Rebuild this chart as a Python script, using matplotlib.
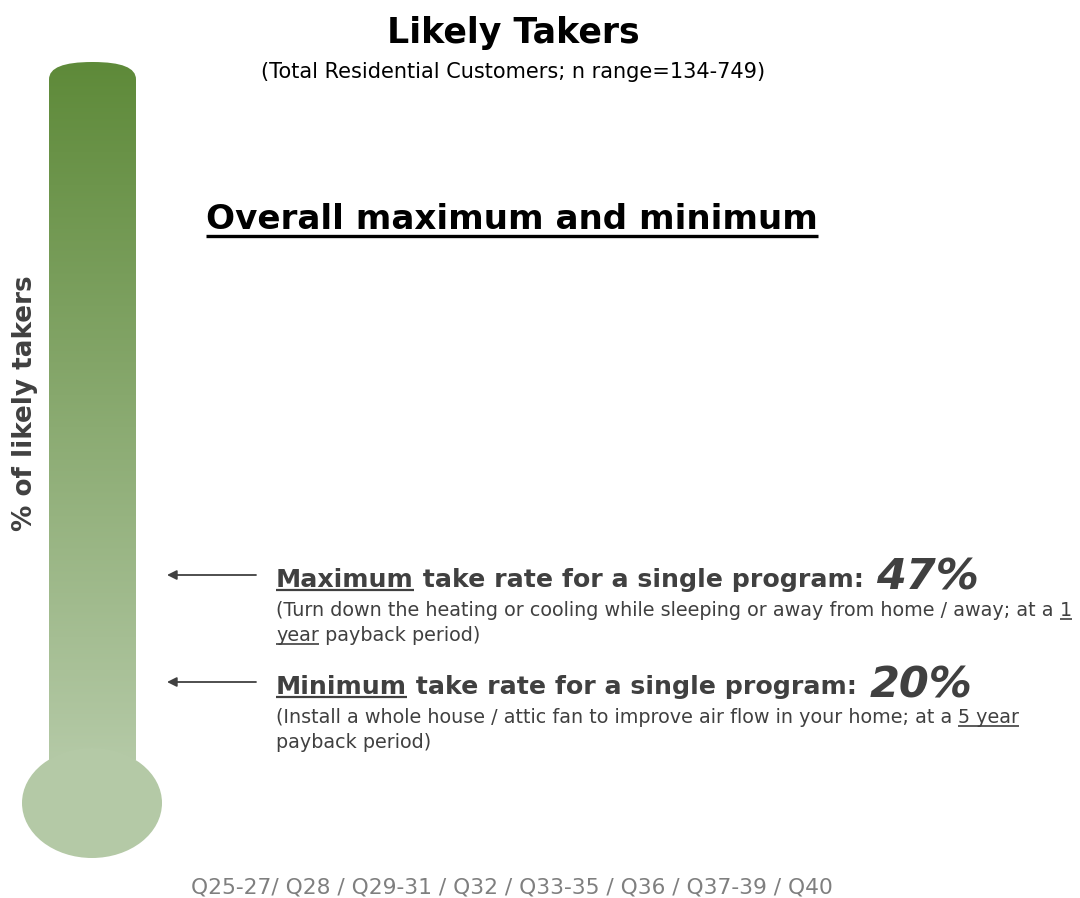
import matplotlib
matplotlib.use('Agg')
import matplotlib.pyplot as plt
import numpy as np
from matplotlib.patches import Ellipse, FancyBboxPatch
from matplotlib.colors import LinearSegmentedColormap

title = 'Likely Takers'
subtitle = '(Total Residential Customers; n range=134-749)'
heading = 'Overall maximum and minimum'
axis_label = '% of likely takers'
footer = 'Q25-27/ Q28 / Q29-31 / Q32 / Q33-35 / Q36 / Q37-39 / Q40'

labels = ['Maximum', 'Minimum']
rates = [47, 20]
programs = [
    ['(Turn down the heating or cooling while sleeping or away from home / away; at a ', '1', ''],
    ['(Install a whole house / attic fan to improve air flow in your home; at a ', '5 year', ''],
]
program_tails = [
    [('year', True), (' payback period)', False)],
    [('payback period)', False)],
]

FONT = 'DejaVu Sans'
GREY = '#404040'

fig = plt.figure(figsize=(10.8, 8.98), dpi=100)
ax = fig.add_axes([0, 0, 1, 1])
ax.set_xlim(0, 1080)
ax.set_ylim(898, 0)
ax.axis('off')

# thermometer: gradient tube + bulb
cmap = LinearSegmentedColormap.from_list('therm', ['#5e8a39', '#b4c9a6'])
tube = FancyBboxPatch((49, 62), 87, 720, boxstyle='round,pad=0,rounding_size=43',
                      mutation_aspect=0.4, fc='none', ec='none')
ax.add_patch(tube)
grad = np.linspace(0, 1, 256).reshape(-1, 1)
im = ax.imshow(grad, cmap=cmap, extent=(49, 136, 760, 62), aspect='auto', zorder=1)
im.set_clip_path(tube)
ax.add_patch(Ellipse((92, 803), 140, 110, fc='#b4c9a6', ec='none', zorder=2))

fig.canvas.draw()
renderer = fig.canvas.get_renderer()


def run(x, y, s, size, weight='normal', style='normal', color=GREY, underline=False, lw=1.2):
    t = ax.text(x, y, s, fontsize=size, fontweight=weight, fontstyle=style, color=color,
                family=FONT, va='baseline', ha='left', zorder=5)
    bb = t.get_window_extent(renderer)
    w = bb.width
    if underline:
        ax.plot([x, x + w], [y + 3, y + 3], color=color, lw=lw, zorder=5,
                solid_capstyle='butt')
    return x + w


# titles
ax.text(513, 43, title, fontsize=25, fontweight='bold', family=FONT, ha='center',
        va='baseline', color='black')
ax.text(513, 78, subtitle, fontsize=15, family=FONT, ha='center', va='baseline', color='black')
x_end = run(206, 229, heading, 24.6, weight='bold', color='black')
ax.plot([206, x_end], [236, 236], color='black', lw=2.4, solid_capstyle='butt')

ax.text(25, 403, axis_label, fontsize=18.9, fontweight='bold', family=FONT, rotation=90,
        ha='center', va='center', color=GREY)

# annotations
rows_y = [587, 694]
for i in range(2):
    y = rows_y[i]
    ax.annotate('', xy=(167, y - 12), xytext=(256, y - 12),
                arrowprops=dict(arrowstyle='-|>', color=GREY, lw=1.3,
                                mutation_scale=14, shrinkA=0, shrinkB=0))
    x = run(276, y, labels[i], 18.2, weight='bold', underline=True, lw=1.6)
    x = run(x, y, ' take rate for a single program: ', 18.2, weight='bold')
    run(x + 4, y + 3, f'{rates[i]}%', 31, weight='bold', style='italic')

    y1 = y + 29
    pre, ul, post = programs[i]
    x = run(276, y1, pre, 13.8)
    run(x, y1, ul, 13.8, underline=True)
    x = 276
    y2 = y1 + 25
    for s, u in program_tails[i]:
        x = run(x, y2, s, 13.8, underline=u)

ax.text(512, 893, footer, fontsize=15.7, family=FONT, ha='center', va='baseline', color='#7f7f7f')

fig.savefig('out.png', dpi=100)
